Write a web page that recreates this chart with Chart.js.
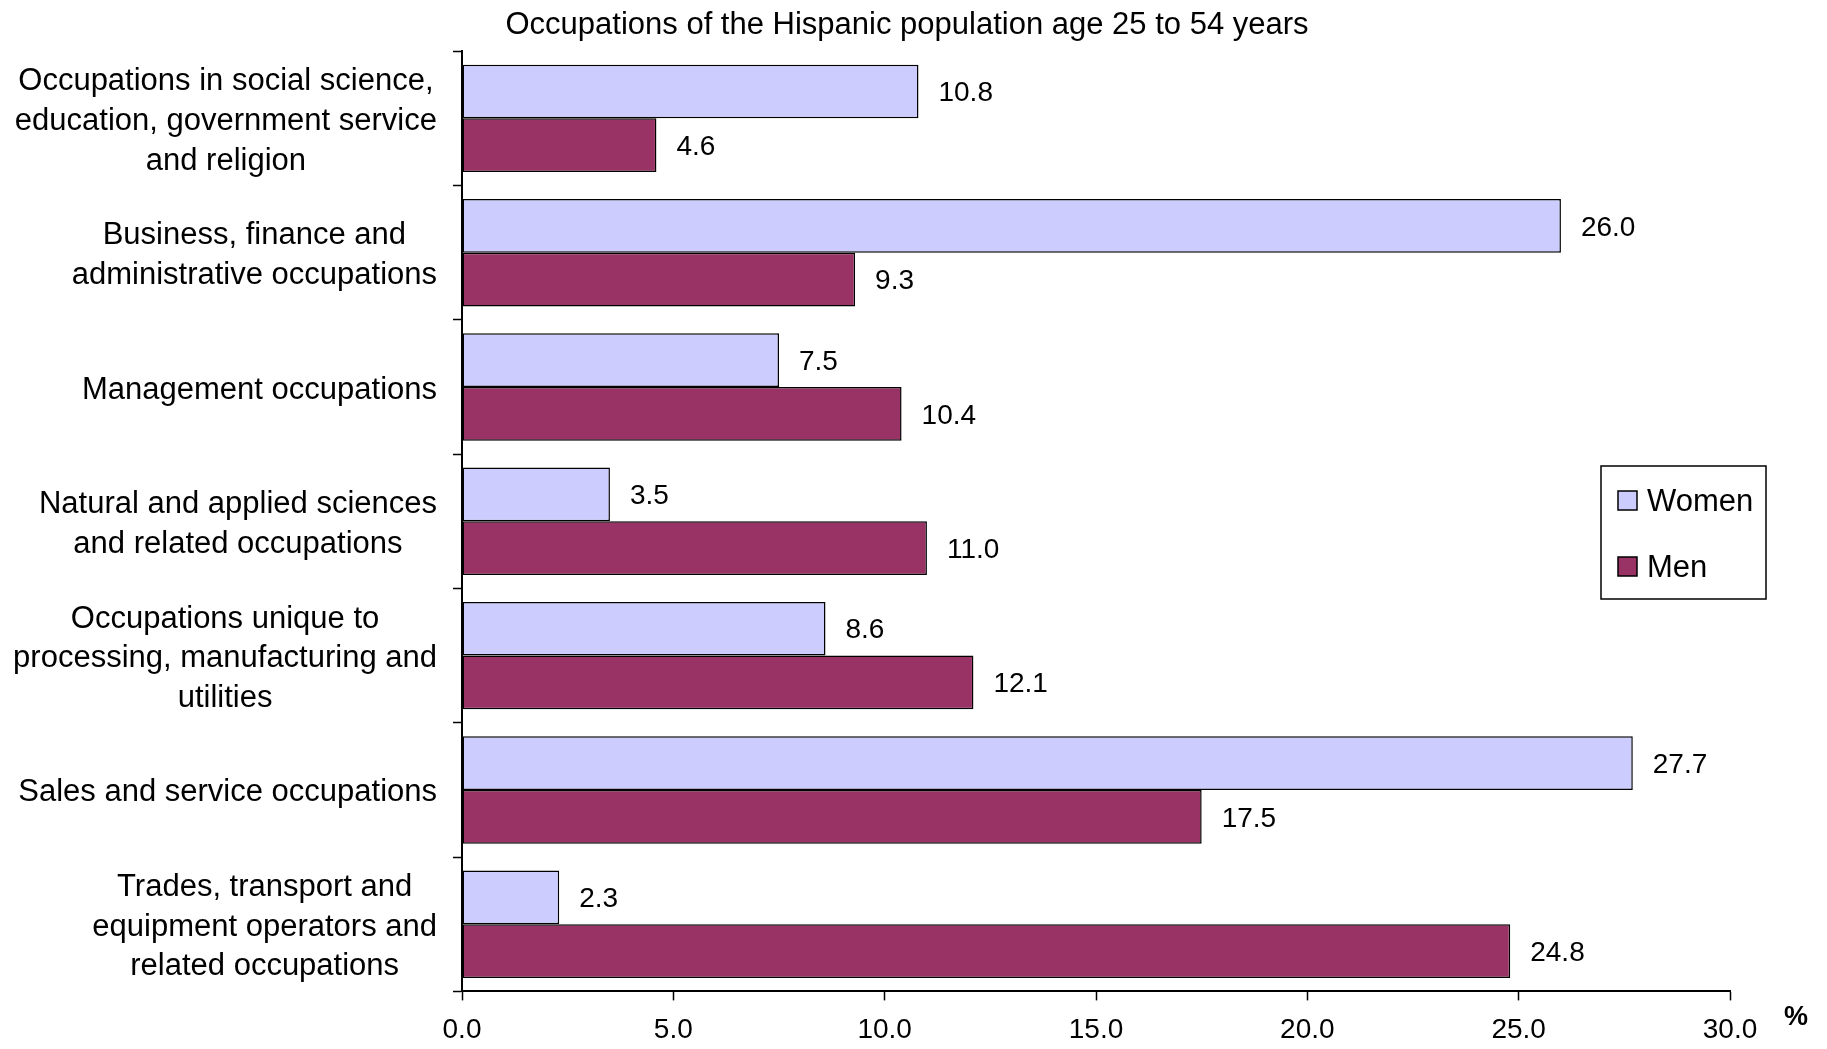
<!DOCTYPE html>
<html>
<head>
<meta charset="utf-8">
<script src="https://cdn.jsdelivr.net/npm/chart.js@4.4.0/dist/chart.umd.min.js"></script>
<style>
  body { margin: 0; background: #fff; }
  #wrap { width: 1827px; height: 1049px; }
</style>
</head>
<body>
<div id="wrap"><canvas id="myChart" width="1827" height="1049"></canvas></div>
<script>
var categories = [
	[ "Occupations in social science,", "education, government service", "and religion" ],
	[ "Business, finance and", "administrative occupations" ],
	[ "Management occupations" ],
	[ "Natural and applied sciences", "and related occupations" ],
	[ "Occupations unique to", "processing, manufacturing and", "utilities" ],
	[ "Sales and service occupations" ],
	[ "Trades, transport and", "equipment operators and", "related occupations" ]
];
var women = [ 10.8, 26.0, 7.5, 3.5, 8.6, 27.7, 2.3 ];
var men = [ 4.6, 9.3, 10.4, 11.0, 12.1, 17.5, 24.8 ];
var seriesNames = [ "Women", "Men" ];
var xTicks = [ 0, 5, 10, 15, 20, 25, 30 ];

var FONT = "'Liberation Sans', Arial, sans-serif";
var PAD_LEFT = 84;

// value labels at the end of each bar
var valueLabels = {
	id : 'valueLabels',
	afterDatasetsDraw : function(chart) {
		var ctx = chart.ctx;
		ctx.save();
		ctx.font = "28px " + FONT;
		ctx.fillStyle = "#000";
		ctx.textAlign = "left";
		ctx.textBaseline = "middle";
		chart.data.datasets.forEach(function(ds, i) {
			chart.getDatasetMeta(i).data.forEach(function(bar, j) {
				ctx.fillText(ds.data[j].toFixed(1), bar.x + 20, bar.y + 2);
			});
		});
		ctx.restore();
	}
};

// category labels: block right-aligned, lines centred inside the block
var catLabels = {
	id : 'catLabels',
	afterDraw : function(chart) {
		var ctx = chart.ctx;
		var yScale = chart.scales.y;
		var right = chart.chartArea.left - 25;
		var lineH = 39.6;
		ctx.save();
		ctx.font = "31px " + FONT;
		ctx.fillStyle = "#000";
		ctx.textAlign = "center";
		ctx.textBaseline = "middle";
		categories.forEach(function(lines, i) {
			var w = 0;
			lines.forEach(function(l) { w = Math.max(w, ctx.measureText(l).width); });
			var cx = right - w / 2;
			var cy = yScale.getPixelForValue(i) + 3;
			var y0 = cy - (lines.length - 1) * lineH / 2;
			lines.forEach(function(l, k) { ctx.fillText(l, cx, y0 + k * lineH); });
		});
		// % unit
		ctx.font = "bold 27px " + FONT;
		ctx.fillText("%", 1796, 1018);
		ctx.restore();
	}
};

// boxed legend
var boxLegend = {
	id : 'boxLegend',
	afterDraw : function(chart) {
		var ctx = chart.ctx;
		ctx.save();
		ctx.fillStyle = "#fff";
		ctx.fillRect(1601, 466, 165, 133);
		ctx.strokeStyle = "#000";
		ctx.lineWidth = 1.5;
		ctx.strokeRect(1601, 466, 165, 133);
		ctx.font = "31px " + FONT;
		ctx.textAlign = "left";
		ctx.textBaseline = "middle";
		var ys = [ 501, 567 ];
		chart.data.datasets.forEach(function(ds, i) {
			ctx.fillStyle = ds.backgroundColor;
			ctx.fillRect(1618, ys[i] - 10, 19, 19);
			ctx.strokeRect(1618, ys[i] - 10, 19, 19);
			ctx.fillStyle = "#000";
			ctx.fillText(ds.label, 1647, ys[i] + 1);
		});
		ctx.restore();
	}
};

var ctx = document.getElementById("myChart");

var myChart = new Chart(ctx, {
	type : 'bar',
	data : {
		labels : categories.map(function(c) { return c.join(" "); }),
		datasets : [ {
			label : seriesNames[0],
			data : women,
			backgroundColor : "#CCCCFF",
			borderColor : "#000",
			borderWidth : 1.5,
			borderSkipped : false
		}, {
			label : seriesNames[1],
			data : men,
			backgroundColor : "#993366",
			borderColor : "#000",
			borderWidth : 1.5,
			borderSkipped : false
		} ]
	},
	options : {
		indexAxis : 'y',
		responsive : false,
		animation : false,
		categoryPercentage : 0.8,
		barPercentage : 1.0,
		layout : {
			padding : { left : PAD_LEFT, right : 97, top : 0, bottom : 0 }
		},
		plugins : {
			legend : { display : false },
			tooltip : { enabled : false },
			title : {
				display : true,
				text : "Occupations of the Hispanic population age 25 to 54 years",
				color : "#000",
				font : { family : FONT, size : 31, weight : 'normal' },
				padding : { top : 7, bottom : 7 }
			}
		},
		scales : {
			x : {
				min : 0,
				max : 30,
				afterBuildTicks : function(scale) {
					scale.ticks = xTicks.map(function(v) { return { value : v }; });
				},
				afterFit : function(scale) { scale.height -= 11; },
				ticks : {
					color : "#000",
					font : { family : FONT, size : 28 },
					padding : 13,
					maxRotation : 0,
					callback : function(v) { return Number(v).toFixed(1); }
				},
				grid : {
					drawOnChartArea : false,
					tickLength : 9,
					tickColor : "#000",
					tickWidth : 1.5
				},
				border : { color : "#000", width : 2 }
			},
			y : {
				ticks : { display : false },
				afterFit : function(scale) { scale.width = 462 - PAD_LEFT; },
				grid : {
					offset : true,
					drawOnChartArea : false,
					tickLength : 9,
					tickColor : "#000",
					tickWidth : 1.5
				},
				border : { color : "#000", width : 2 }
			}
		}
	},
	plugins : [ valueLabels, catLabels, boxLegend ]
});
</script>
</body>
</html>
